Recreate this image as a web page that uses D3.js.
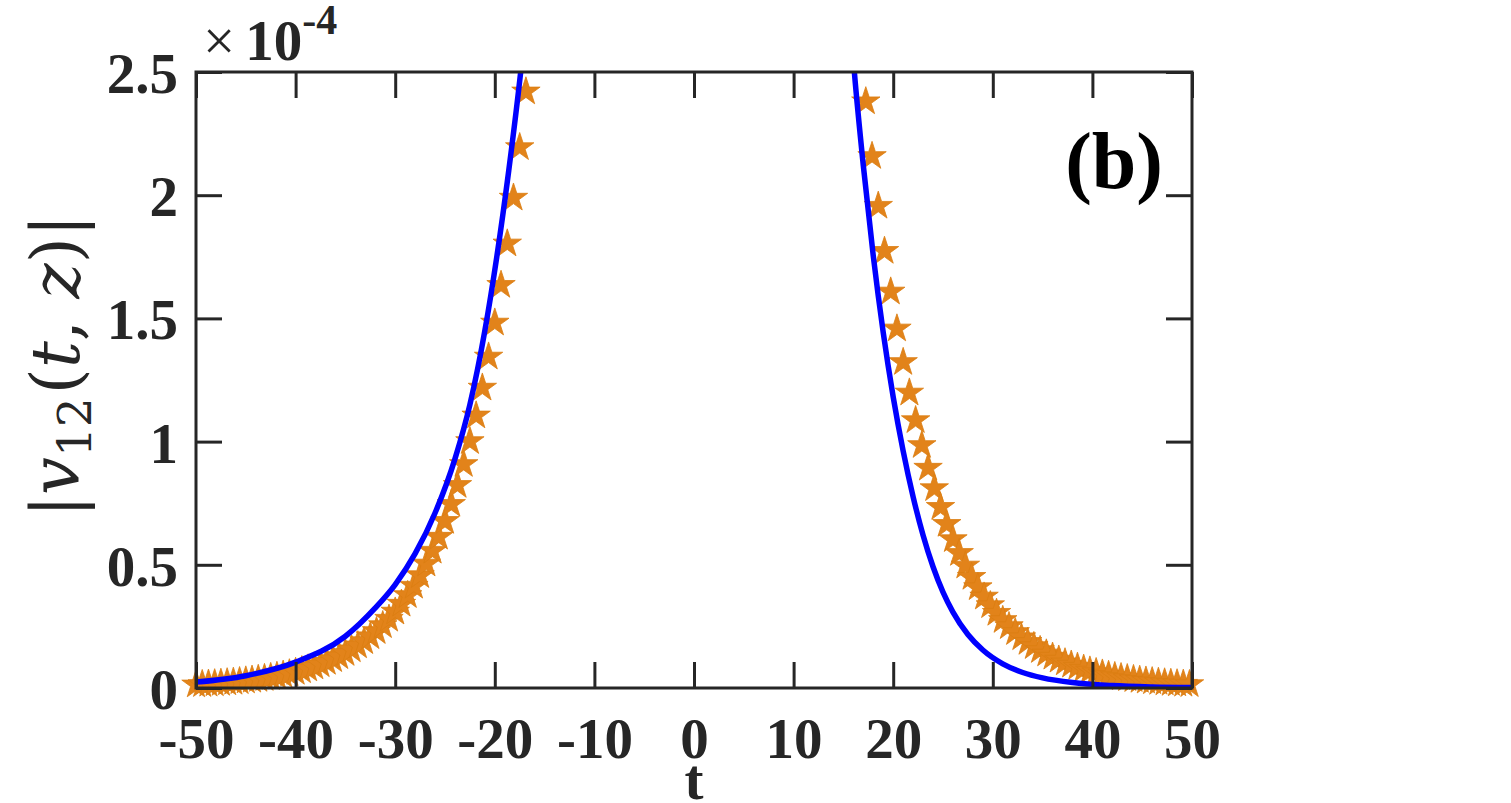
<!DOCTYPE html>
<html>
<head>
<meta charset="utf-8">
<script src="https://cdn.jsdelivr.net/npm/d3@7"></script>
<style>
  html, body { margin: 0; padding: 0; background: #fff; }
  svg { display: block; }
</style>
</head>
<body>
<svg id="chart" width="1511" height="803"></svg>
<script>
// ---------- data (values in units of 1e-4) ----------
const xTicks = [-50, -40, -30, -20, -10, 0, 10, 20, 30, 40, 50];
const yTicks = [0, 0.5, 1, 1.5, 2, 2.5];
const yTickLabels = ["0", "0.5", "1", "1.5", "2", "2.5"];
const xTickLabels = ["-50", "-40", "-30", "-20", "-10", "0", "10", "20", "30", "40", "50"];

// solid blue curve, left branch
const blueLeftT = [-50, -45, -40, -35, -32, -30, -28, -26, -24, -22.5, -21, -19.8, -18.6, -17.4, -17];
const blueLeftV = [0.024, 0.05, 0.105, 0.21, 0.325, 0.42, 0.545, 0.71, 0.93, 1.15, 1.45, 1.75, 2.1, 2.5, 2.65];
// solid blue curve, right branch
const blueRightT = [15.8, 16.1, 17, 18, 19, 20, 21, 22, 23, 24, 25, 26, 27.5, 29, 31, 33, 35, 38, 42, 46, 50];
const blueRightV = [2.65, 2.5, 2.12, 1.753, 1.442, 1.181, 0.962, 0.776, 0.62, 0.492, 0.389, 0.308, 0.217, 0.154, 0.098, 0.063, 0.041, 0.022, 0.0099, 0.0044, 0.002];

// star markers, left branch
const starLeftT = [-50, -49.375, -48.75, -48.125, -47.5, -46.875, -46.25, -45.625, -45, -44.375,
  -43.75, -43.125, -42.5, -41.875, -41.25, -40.625, -40, -39.375, -38.75, -38.125,
  -37.5, -36.875, -36.25, -35.625, -35, -34.375, -33.75, -33.125, -32.5, -31.875,
  -31.25, -30.625, -30, -29.375, -28.75, -28.125, -27.5, -26.875, -26.25, -25.625,
  -25, -24.375, -23.75, -23.125, -22.5, -21.875, -21.25, -20.625, -20, -19.375,
  -18.75, -18.125, -17.5, -16.875];
const starLeftV = [0.0134, 0.0148, 0.0163, 0.0180, 0.0198, 0.0219, 0.0241, 0.0266, 0.0294, 0.0324,
  0.0357, 0.0394, 0.0435, 0.0480, 0.0529, 0.0584, 0.0644, 0.0710, 0.0783, 0.0864,
  0.0953, 0.105, 0.116, 0.128, 0.141, 0.156, 0.172, 0.189, 0.209, 0.230,
  0.254, 0.280, 0.309, 0.341, 0.376, 0.414, 0.457, 0.504, 0.556, 0.613,
  0.677, 0.746, 0.823, 0.908, 1.001, 1.105, 1.218, 1.344, 1.482, 1.635,
  1.803, 1.989, 2.194, 2.42];
// star markers, right branch
const starRightT = [17.25, 17.875, 18.5, 19.125, 19.75, 20.375, 21, 21.625, 22.25, 22.875,
  23.5, 24.125, 24.75, 25.375, 26, 26.625, 27.25, 27.875, 28.5, 29.125,
  29.75, 30.375, 31, 31.625, 32.25, 32.875, 33.5, 34.125, 34.75, 35.375,
  36, 36.625, 37.25, 37.875, 38.5, 39.125, 39.75, 40.375, 41, 41.625,
  42.25, 42.875, 43.5, 44.125, 44.75, 45.375, 46, 46.625, 47.25, 47.875,
  48.5, 49.125, 49.75];
const starRightV = [2.38, 2.158, 1.956, 1.773, 1.608, 1.458, 1.322, 1.198, 1.086, 0.985,
  0.893, 0.810, 0.734, 0.665, 0.603, 0.547, 0.496, 0.450, 0.408, 0.370,
  0.335, 0.304, 0.275, 0.250, 0.226, 0.205, 0.186, 0.169, 0.153, 0.139,
  0.126, 0.114, 0.103, 0.0937, 0.0850, 0.0770, 0.0698, 0.0633, 0.0574, 0.0520,
  0.0472, 0.0428, 0.0388, 0.0352, 0.0319, 0.0289, 0.0262, 0.0238, 0.0215, 0.0195,
  0.0177, 0.0161, 0.0146];

// ---------- layout ----------
const svg = d3.select("#chart");
const L = 196, R = 1192, T = 72, B = 688;
const x = d3.scaleLinear().domain([-50, 50]).range([L, R]);
const y = d3.scaleLinear().domain([0, 2.5]).range([B, T]);
const axisColor = "#262626";
const serif = "'Liberation Serif', 'Times New Roman', serif";
const tickLen = 26;

svg.append("defs").append("clipPath").attr("id", "clip")
  .append("rect").attr("x", L).attr("y", T).attr("width", R - L).attr("height", B - T);

// ---------- stars ----------
const starPath = d3.symbol().type(d3.symbolStar).size(250)();
const stars = starLeftT.map((t, i) => ({ t, v: starLeftV[i] }))
  .concat(starRightT.map((t, i) => ({ t, v: starRightV[i] })));
svg.append("g").selectAll("path").data(stars).join("path")
  .attr("d", starPath)
  .attr("transform", d => `translate(${x(d.t)},${y(d.v)})`)
  .attr("fill", "#E2831A")
  .attr("stroke", "#DA7E12")
  .attr("stroke-width", 0.8);

// ---------- blue line ----------
const line = d3.line().x(d => x(d.t)).y(d => y(d.v)).curve(d3.curveMonotoneX);
const gLine = svg.append("g").attr("clip-path", "url(#clip)");
[[blueLeftT, blueLeftV], [blueRightT, blueRightV]].forEach(([ts, vs]) => {
  gLine.append("path")
    .datum(ts.map((t, i) => ({ t, v: vs[i] })))
    .attr("d", line)
    .attr("fill", "none")
    .attr("stroke", "#0000FF")
    .attr("stroke-width", 5.5);
});

// ---------- axes ----------
function styleAxis(g) {
  g.select(".domain").remove();
  g.selectAll(".tick line").attr("stroke", axisColor).attr("stroke-width", 3);
  g.selectAll("text").attr("fill", axisColor)
    .style("font-family", serif).style("font-weight", "bold").style("font-size", "57px");
}
svg.append("g").attr("transform", `translate(0,${B})`)
  .call(d3.axisBottom(x).tickValues(xTicks).tickSize(-tickLen).tickPadding(30)
    .tickFormat((d, i) => xTickLabels[i]))
  .call(styleAxis);
svg.append("g").attr("transform", `translate(0,${T})`)
  .call(d3.axisTop(x).tickValues(xTicks).tickSize(-tickLen).tickFormat(""))
  .call(styleAxis);
svg.append("g").attr("transform", `translate(${L},0)`)
  .call(d3.axisLeft(y).tickValues(yTicks).tickSize(-tickLen).tickPadding(18)
    .tickFormat((d, i) => yTickLabels[i]))
  .call(styleAxis)
  .selectAll("text").attr("dy", "0.36em");
svg.append("g").attr("transform", `translate(${R},0)`)
  .call(d3.axisRight(y).tickValues(yTicks).tickSize(-tickLen).tickFormat(""))
  .call(styleAxis);

svg.append("rect").attr("x", L).attr("y", T).attr("width", R - L).attr("height", B - T)
  .attr("fill", "none").attr("stroke", axisColor).attr("stroke-width", 3);

// ---------- exponent label ----------
const expo = svg.append("text").attr("x", 203).attr("y", 60)
  .attr("fill", axisColor).style("font-family", serif).style("font-size", "57px");
expo.append("tspan").text("\u00D7");
expo.append("tspan").attr("dx", 10).style("font-weight", "bold").text("10");
expo.append("tspan").attr("dy", -26).style("font-weight", "bold").style("font-size", "42px").text("-4");

// ---------- axis labels ----------
svg.append("text").attr("x", (L + R) / 2).attr("y", 799).attr("text-anchor", "middle")
  .attr("fill", axisColor).style("font-family", serif).style("font-weight", "bold").style("font-size", "57px")
  .text("t");

const yl = svg.append("text").attr("transform", "translate(79,366) rotate(-90)")
  .attr("text-anchor", "middle").attr("fill", axisColor)
  .style("font-family", "'DejaVu Serif', serif").style("font-size", "67px");
yl.append("tspan").text("|");
yl.append("tspan").style("font-style", "italic").text("v");
yl.append("tspan").attr("dy", 12).style("font-size", "47px").text("12");
yl.append("tspan").attr("dy", -12).attr("dx", 3).text("(");
yl.append("tspan").style("font-style", "italic").text("t");
yl.append("tspan").text(", ");
yl.append("tspan").style("font-style", "italic").text("z");
yl.append("tspan").text(")|");

// ---------- panel label ----------
svg.append("text").attr("x", 1163).attr("y", 188).attr("text-anchor", "end")
  .attr("fill", "#000").style("font-family", serif).style("font-weight", "bold").style("font-size", "80px")
  .text("(b)");
</script>
</body>
</html>
